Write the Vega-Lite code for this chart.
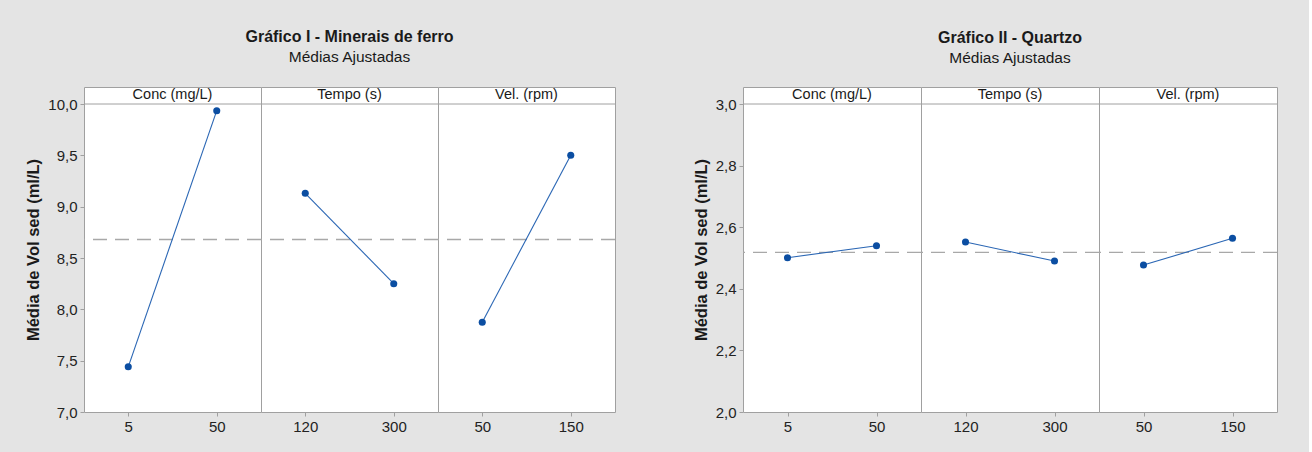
{
  "$schema": "https://vega.github.io/schema/vega-lite/v6.json",
  "background": "#e4e4e4",
  "padding": {"left": 25, "top": 29, "right": 30, "bottom": 20},
  "datasets": {
    "ferro": [
      {"factor": "Conc (mg/L)", "level": 5, "mean": 7.44},
      {"factor": "Conc (mg/L)", "level": 50, "mean": 9.935},
      {"factor": "Tempo (s)", "level": 120, "mean": 9.13},
      {"factor": "Tempo (s)", "level": 300, "mean": 8.25},
      {"factor": "Vel. (rpm)", "level": 50, "mean": 7.875},
      {"factor": "Vel. (rpm)", "level": 150, "mean": 9.5}
    ],
    "quartzo": [
      {"factor": "Conc (mg/L)", "level": 5, "mean": 2.501},
      {"factor": "Conc (mg/L)", "level": 50, "mean": 2.54},
      {"factor": "Tempo (s)", "level": 120, "mean": 2.552},
      {"factor": "Tempo (s)", "level": 300, "mean": 2.49},
      {"factor": "Vel. (rpm)", "level": 50, "mean": 2.477},
      {"factor": "Vel. (rpm)", "level": 150, "mean": 2.564}
    ]
  },
  "spacing": 76,
  "hconcat": [
    {
      "data": {"name": "ferro"},
      "title": {"text": "Gráfico I - Minerais de ferro", "subtitle": "Médias Ajustadas", "dx": 265.5},
      "facet": {"column": {"field": "factor", "type": "nominal", "sort": ["Conc (mg/L)", "Tempo (s)", "Vel. (rpm)"], "header": null}},
      "spacing": 0,
      "bounds": "flush",
      "resolve": {"scale": {"x": "independent"}, "axis": {"x": "independent"}},
      "spec": {
        "width": 177,
        "height": 325,
        "layer": [
          {
            "transform": [{"aggregate": [{"op": "count", "as": "n"}], "groupby": ["factor"]}],
            "mark": {"type": "rule", "color": "#a8a8a8", "strokeWidth": 1.3, "strokeDash": [14, 8]},
            "encoding": {"y": {"datum": 8.68, "type": "quantitative"}}
          },
          {
            "transform": [{"aggregate": [{"op": "count", "as": "n"}], "groupby": ["factor"]}],
            "mark": {"type": "rule", "color": "#a0a0a0", "strokeWidth": 1},
            "encoding": {"y": {"datum": 10, "type": "quantitative"}}
          },
          {
            "transform": [{"aggregate": [{"op": "count", "as": "n"}], "groupby": ["factor"]}],
            "mark": {"type": "text", "fontSize": 14.5, "color": "#1a1a1a", "baseline": "middle"},
            "encoding": {"y": {"datum": 10.0877, "type": "quantitative"}, "text": {"field": "factor"}}
          },
          {
            "mark": {"type": "line", "color": "#2a66b4", "strokeWidth": 1.1},
            "encoding": {
              "x": {"field": "level", "type": "ordinal", "title": null, "axis": {"labelAngle": 0}},
              "y": {"field": "mean", "type": "quantitative", "title": "Média de Vol sed (ml/L)",
                    "scale": {"domain": [7, 10.1656], "nice": false, "zero": false},
                    "axis": {"values": [7, 7.5, 8, 8.5, 9, 9.5, 10], "labelExpr": "replace(format(datum.value, '.1f'), '.', ',')"}}
            }
          },
          {
            "mark": {"type": "point", "filled": true, "shape": "circle", "size": 50, "color": "#0b4ea2", "opacity": 1},
            "encoding": {
              "x": {"field": "level", "type": "ordinal"},
              "y": {"field": "mean", "type": "quantitative"}
            }
          }
        ]
      }
    },
    {
      "data": {"name": "quartzo"},
      "title": {"text": "Gráfico II - Quartzo", "subtitle": "Médias Ajustadas", "dx": 267},
      "facet": {"column": {"field": "factor", "type": "nominal", "sort": ["Conc (mg/L)", "Tempo (s)", "Vel. (rpm)"], "header": null}},
      "spacing": 0,
      "bounds": "flush",
      "resolve": {"scale": {"x": "independent"}, "axis": {"x": "independent"}},
      "spec": {
        "width": 178,
        "height": 325,
        "layer": [
          {
            "transform": [{"aggregate": [{"op": "count", "as": "n"}], "groupby": ["factor"]}],
            "mark": {"type": "rule", "color": "#a8a8a8", "strokeWidth": 1.3, "strokeDash": [14, 8]},
            "encoding": {"y": {"datum": 2.518, "type": "quantitative"}}
          },
          {
            "transform": [{"aggregate": [{"op": "count", "as": "n"}], "groupby": ["factor"]}],
            "mark": {"type": "rule", "color": "#a0a0a0", "strokeWidth": 1},
            "encoding": {"y": {"datum": 3, "type": "quantitative"}}
          },
          {
            "transform": [{"aggregate": [{"op": "count", "as": "n"}], "groupby": ["factor"]}],
            "mark": {"type": "text", "fontSize": 14.5, "color": "#1a1a1a", "baseline": "middle"},
            "encoding": {"y": {"datum": 3.0292, "type": "quantitative"}, "text": {"field": "factor"}}
          },
          {
            "mark": {"type": "line", "color": "#2a66b4", "strokeWidth": 1.1},
            "encoding": {
              "x": {"field": "level", "type": "ordinal", "title": null, "axis": {"labelAngle": 0}},
              "y": {"field": "mean", "type": "quantitative", "title": "Média de Vol sed (ml/L)",
                    "scale": {"domain": [2, 3.0552], "nice": false, "zero": false},
                    "axis": {"values": [2, 2.2, 2.4, 2.6, 2.8, 3], "labelExpr": "replace(format(datum.value, '.1f'), '.', ',')"}}
            }
          },
          {
            "mark": {"type": "point", "filled": true, "shape": "circle", "size": 50, "color": "#0b4ea2", "opacity": 1},
            "encoding": {
              "x": {"field": "level", "type": "ordinal"},
              "y": {"field": "mean", "type": "quantitative"}
            }
          }
        ]
      }
    }
  ],
  "config": {
    "font": "Liberation Sans",
    "facet": {"spacing": 0},
    "view": {"stroke": "#a0a0a0", "strokeWidth": 1, "fill": "white"},
    "point": {"padding": 0.5},
    "scale": {"pointPadding": 0.5},
    "title": {"anchor": "middle", "frame": "group", "fontSize": 16, "fontWeight": "bold", "color": "#1a1a1a", "subtitleFontSize": 15.5, "subtitleColor": "#1a1a1a", "subtitlePadding": 5, "offset": 20.5},
    "axis": {"domain": false, "tickColor": "#a0a0a0", "tickSize": 4, "labelFontSize": 15, "labelColor": "#222222", "labelPadding": 3, "titleFontSize": 16.5, "titleFontWeight": "bold", "titleColor": "#1a1a1a", "titlePadding": 6, "grid": false}
  }
}
